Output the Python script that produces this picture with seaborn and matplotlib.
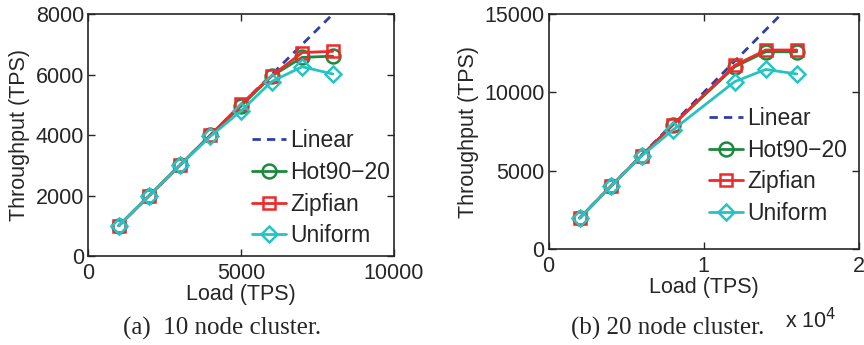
import numpy as np
import pandas as pd
import matplotlib
matplotlib.use("Agg")
import matplotlib.pyplot as plt
import seaborn as sns

# ---- data ----
load_a = [1000, 2000, 3000, 4000, 5000, 6000, 7000, 8000]
linear_a = [1000, 2000, 3000, 4000, 5000, 6000, 7000, 8000]
hot_a = [1000, 2000, 3000, 4000, 4960, 5950, 6570, 6610]
zipf_a = [1000, 2000, 3000, 4000, 5020, 5960, 6730, 6770]
unif_a = [1000, 2000, 3000, 3960, 4800, 5770, 6260, 6020]

load_b = [2000, 4000, 6000, 8000, 12000, 14000, 16000]
linear_b = [2000, 4000, 6000, 8000, 12000, 14000, 16000]
hot_b = [1980, 4000, 5970, 7920, 11640, 12600, 12600]
zipf_b = [1980, 4000, 5970, 7930, 11730, 12710, 12710]
unif_b = [1980, 4000, 5950, 7600, 10690, 11470, 11180]

series_names = ["Linear", "Hot90\u221220", "Zipfian", "Uniform"]
yticks_a = [0, 2000, 4000, 6000, 8000]
xticks_a = [0, 5000, 10000]
yticks_b = [0, 5000, 10000, 15000]
xticks_b = [0, 10000, 20000]
xticklabels_b = ["0", "1", "2"]

sns.set_style("ticks")
plt.rcParams["font.family"] = ["Liberation Sans", "DejaVu Sans"]
plt.rcParams["xtick.direction"] = "in"
plt.rcParams["ytick.direction"] = "in"
plt.rcParams["xtick.top"] = True
plt.rcParams["ytick.right"] = True

styles = {
    "Linear": dict(color="#2f3fa8", ls=(0, (3.0, 2.2)), marker=None),
    "Hot90\u221220": dict(color="#1b8a3c", ls="-", marker="o"),
    "Zipfian": dict(color="#ee2a2a", ls="-", marker="s"),
    "Uniform": dict(color="#27c3c3", ls="-", marker="D"),
}

fig = plt.figure(figsize=(8.64, 3.45), dpi=100)
ax1 = fig.add_axes([0.102, 0.258, 0.354, 0.701])
ax2 = fig.add_axes([0.635, 0.278, 0.359, 0.681])

FS = 15.5
LFS = 16.5

def draw(ax, load, ys):
    for name, y in zip(series_names, ys):
        df = pd.DataFrame({"Load": load, "Throughput": y})
        st = styles[name]
        ms = 10 if st["marker"] == "o" else (8 if st["marker"] == "s" else 8.5)
        sns.lineplot(data=df, x="Load", y="Throughput", ax=ax, color=st["color"],
                     linestyle=st["ls"], marker=st["marker"], markersize=ms,
                     markerfacecolor="none", markeredgecolor=st["color"],
                     markeredgewidth=1.8, linewidth=2.0, label=name,
                     legend=False, zorder=1 if name == "Linear" else 2)
    for s in ax.spines.values():
        s.set_linewidth(1.2)
    ax.tick_params(labelsize=FS, length=5, width=1.0)
    ax.tick_params(axis="y", pad=3)
    ax.tick_params(axis="x", pad=5)
    ax.set_ylabel("Throughput (TPS)", fontsize=FS, labelpad=4)
    ax.set_xlabel("Load (TPS)", fontsize=FS, labelpad=0)

draw(ax1, load_a, [linear_a, hot_a, zipf_a, unif_a])
ax1.set_xlim(0, 10000)
ax1.set_ylim(0, 8000)
ax1.set_xticks(xticks_a)
ax1.set_yticks(yticks_a)

draw(ax2, load_b, [linear_b, hot_b, zipf_b, unif_b])
ax2.set_xlim(0, 20000)
ax2.set_ylim(0, 15000)
ax2.set_xticks(xticks_b)
ax2.set_xticklabels(xticklabels_b)
ax2.set_yticks(yticks_b)
fig.text(0.938, 0.035, r"x 10$^4$", fontsize=FS, ha="center", va="bottom")

for ax, anchor in [(ax1, (0.292, 0.625)), (ax2, (0.821, 0.69))]:
    h, l = ax.get_legend_handles_labels()
    ax.legend(h, l, loc="upper left", bbox_to_anchor=anchor,
              bbox_transform=fig.transFigure, frameon=False, fontsize=LFS,
              handlelength=1.45, handletextpad=0.2, labelspacing=0.38,
              borderaxespad=0, borderpad=0)

fig.text(0.257, 0.015, "(a)  10 node cluster.", fontsize=18,
         family=["Liberation Serif", "DejaVu Serif"], ha="center", va="bottom")
fig.text(0.773, 0.015, "(b) 20 node cluster.", fontsize=18,
         family=["Liberation Serif", "DejaVu Serif"], ha="center", va="bottom")

fig.savefig("out.png", dpi=100)
